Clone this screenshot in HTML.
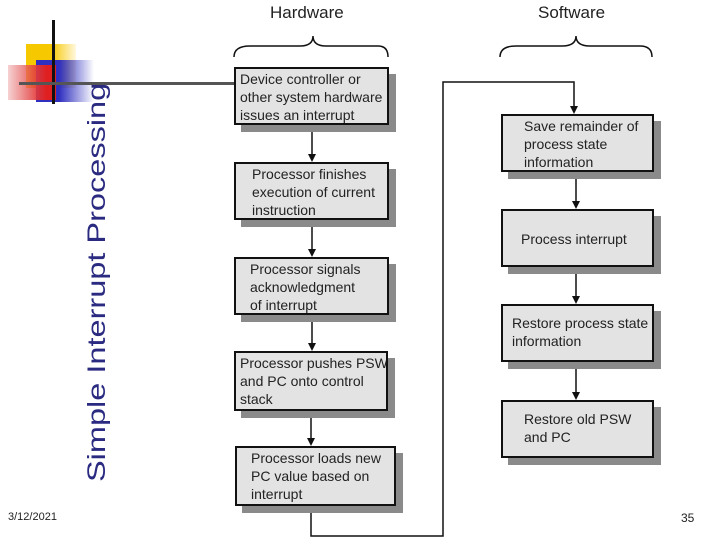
<!DOCTYPE html>
<html><head><meta charset="utf-8"><style>
body{margin:0;width:720px;height:540px;background:#fff;position:relative;overflow:hidden;font-family:"Liberation Sans",sans-serif}
.b{position:absolute;background:#e3e3e3;border:2px solid #111;box-shadow:7px 7px 0 #8a8a8a;font-size:14px;line-height:18px;color:#222;box-sizing:border-box;padding:1px 4px;white-space:nowrap;overflow:hidden}
.a{position:absolute}
</style></head><body>
<div class="a" style="left:26px;top:44px;width:50px;height:44px;background:linear-gradient(90deg,#f6c800 50%,rgba(255,230,150,0.3))"></div>
<div class="a" style="left:36px;top:60px;width:58px;height:42px;background:linear-gradient(90deg,#3030c0 40%,rgba(255,255,255,0))"></div>
<div class="a" style="left:8px;top:65px;width:48px;height:35px;background:linear-gradient(90deg,rgba(240,180,180,0.6),#e02020 80%)"></div>
<div class="a" style="left:52px;top:20px;width:3px;height:84px;background:#111"></div>
<div class="a" style="left:19px;top:82px;width:215px;height:3px;background:#555"></div>
<div class="a" style="left:82px;top:482px;transform-origin:0 0;transform:rotate(-90deg) scaleX(1.3);font-size:25px;line-height:30px;color:#2a2a80;white-space:nowrap">Simple Interrupt Processing</div>
<div class="a" style="left:8px;top:511px;font-size:11px;color:#222">3/12/2021</div>
<div class="a" style="left:681px;top:511px;font-size:12px;color:#222">35</div>
<div class="a" style="left:270px;top:3px;font-size:17px;color:#222">Hardware</div>
<div class="a" style="left:538px;top:3px;font-size:17px;color:#222">Software</div>
<svg class="a" style="left:0;top:0" width="720" height="540">
<g fill="none" stroke="#111" stroke-width="1.5">
<path d="M234 57 Q234 46 250 46 L300 46 Q313 46 313 36 Q313 46 326 46 L378 46 Q388 46 388 57"/>
<path d="M500 57 Q500 46 516 46 L562 46 Q576 46 576 36 Q576 46 590 46 L640 46 Q652 46 652 57"/>
<path d="M311 505 V536 H443 V82 H574 V108"/>
<path d="M312 124 V156 M312 219 V251 M312 314 V345 M311 410 V440 M576 171 V203 M576 266 V298 M576 361 V394"/>
</g>
<g fill="#111">
<path d="M570 106 L578 106 L574 114Z"/>
<path d="M308 154 L316 154 L312 162Z"/><path d="M308 249 L316 249 L312 257Z"/><path d="M308 343 L316 343 L312 351Z"/><path d="M307 438 L315 438 L311 446Z"/>
<path d="M572 201 L580 201 L576 209Z"/><path d="M572 296 L580 296 L576 304Z"/><path d="M572 392 L580 392 L576 400Z"/>
</g></svg>
<div class="b" style="left:234px;top:67px;width:155px;height:58px">Device controller or<br>other system hardware<br>issues an interrupt</div>
<div class="b" style="left:234px;top:162px;width:155px;height:58px;padding-left:16px">Processor finishes<br>execution of current<br>instruction</div>
<div class="b" style="left:234px;top:257px;width:155px;height:58px;padding-left:14px">Processor signals<br>acknowledgment<br>of interrupt</div>
<div class="b" style="left:234px;top:351px;width:154px;height:60px">Processor pushes PSW<br>and PC onto control<br>stack</div>
<div class="b" style="left:235px;top:446px;width:161px;height:60px;padding-left:14px">Processor loads new<br>PC value based on<br>interrupt</div>
<div class="b" style="left:501px;top:114px;width:153px;height:58px;padding-left:21px">Save remainder of<br>process state<br>information</div>
<div class="b" style="left:501px;top:209px;width:153px;height:58px;padding:19px 0 0 18px">Process interrupt</div>
<div class="b" style="left:501px;top:304px;width:153px;height:58px;padding:8px 0 0 9px">Restore process state<br>information</div>
<div class="b" style="left:501px;top:400px;width:153px;height:58px;padding:8px 0 0 21px">Restore old PSW<br>and PC</div>
</body></html>
